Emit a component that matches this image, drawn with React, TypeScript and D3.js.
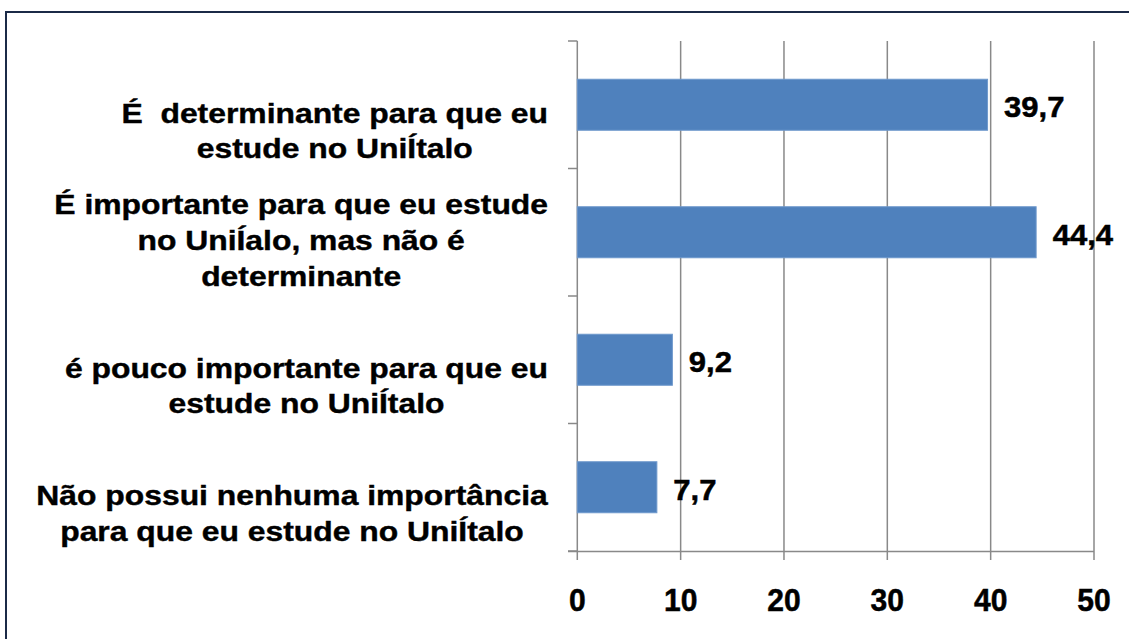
import React, { useLayoutEffect, useRef } from 'react';
import * as d3 from 'd3';

// ---- data ----
const categories = ['determinante', 'importante', 'pouco importante', 'nenhuma importância'];
const categoryLines: string[][] = [
  ['É  determinante para que eu', 'estude no UniÍtalo'],
  ['É importante para que eu estude', 'no UniÍalo, mas não é', 'determinante'],
  ['é pouco importante para que eu', 'estude no UniÍtalo'],
  ['Não possui nenhuma importância', 'para que eu estude no UniÍtalo'],
];
const values = [39.7, 44.4, 9.2, 7.7];
const valueLabels = ['39,7', '44,4', '9,2', '7,7'];
const xTicks = [0, 10, 20, 30, 40, 50];
const xTickLabels = ['0', '10', '20', '30', '40', '50'];

const W = 1129;
const H = 639;
const FONT = '"Liberation Sans", Arial, Helvetica, sans-serif';

export default function App() {
  const labelsRef = useRef<SVGGElement>(null);

  const x = d3.scaleLinear().domain([0, 50]).range([577.3, 1094]);
  const yBand = d3.scaleBand<string>().domain(categories).range([41, 551]).paddingInner(0).paddingOuter(0);
  const yBar = d3.scaleBand<string>().domain(categories).range([41, 551]).paddingInner(0.6).paddingOuter(0.3);
  const boundaries = [...categories.map((c) => yBand(c) as number), 551];
  const axisY = 551.5;
  const gridColor = '#898989';

  const catScaleX = 1.18;
  const lineGap = 36;

  useLayoutEffect(() => {
    if (!labelsRef.current) return;
    const g = d3.select(labelsRef.current);
    g.selectAll<SVGGElement, unknown>('g.cat').each(function () {
      const inner = d3.select(this).select<SVGGElement>('g.inner').node();
      if (!inner) return;
      const bb = inner.getBBox();
      const w = bb.width * catScaleX;
      const cx = 548 - w / 2;
      const ty = d3.select(this).attr('data-ty');
      d3.select(this).attr('transform', `translate(${cx},${ty})`);
    });
  }, []);

  return (
    <svg
      width={W}
      height={H}
      style={{ position: 'absolute', left: 0, top: 0, background: '#fff' }}
      fontFamily={FONT}
    >
      <rect x={0} y={0} width={W} height={H} fill="#ffffff" />
      <rect x={6} y={12} width={W + 100} height={H + 100} fill="#ffffff" stroke="#1b2a47" strokeWidth={2} />

      {/* gridlines */}
      {xTicks.map((t) => (
        <line key={`g${t}`} x1={x(t)} x2={x(t)} y1={41} y2={560} stroke={gridColor} strokeWidth={1.5} />
      ))}
      {/* x axis */}
      <line x1={568} x2={x(50)} y1={axisY} y2={axisY} stroke={gridColor} strokeWidth={1.5} />
      {/* y ticks */}
      {boundaries.map((b, i) => (
        <line key={`yt${i}`} x1={568} x2={x(0)} y1={b} y2={b} stroke={gridColor} strokeWidth={1.5} />
      ))}

      {/* bars */}
      {categories.map((c, i) => (
        <rect
          key={`b${i}`}
          x={x(0)}
          y={yBar(c)}
          width={x(values[i]) - x(0)}
          height={yBar.bandwidth()}
          fill="#4f81bd"
          stroke="#6e98cc"
          strokeWidth={1}
        />
      ))}

      {/* value labels */}
      {categories.map((c, i) => {
        const cy = (yBar(c) as number) + yBar.bandwidth() / 2;
        const lx = x(values[i]) + 16.5;
        return (
          <text
            key={`v${i}`}
            transform={`translate(${lx},${cy + 12.5}) scale(1.07,1)`}
            fontSize={29}
            fontWeight="bold"
            fill="#000"
            stroke="#000"
            strokeWidth={0.5}
          >
            {valueLabels[i]}
          </text>
        );
      })}

      {/* x tick labels */}
      {xTicks.map((t, i) => (
        <text
          key={`xl${t}`}
          transform={`translate(${x(t)},${610.5}) scale(0.94,1)`}
          textAnchor="middle"
          fontSize={32}
          fontWeight="bold"
          fill="#000"
          stroke="#000"
          strokeWidth={0.5}
        >
          {xTickLabels[i]}
        </text>
      ))}

      {/* category labels */}
      <g ref={labelsRef}>
        {categories.map((c, i) => {
          const lines = categoryLines[i];
          const bottom = (yBand(c) as number) + yBand.bandwidth();
          const lastBaseline = bottom - 10;
          const firstBaseline = lastBaseline - (lines.length - 1) * lineGap;
          return (
            <g key={`c${i}`} className="cat" data-ty={firstBaseline} transform={`translate(335,${firstBaseline})`}>
              <g className="inner" transform={`scale(${catScaleX},1)`}>
                {lines.map((ln, j) => (
                  <text
                    key={j}
                    x={0}
                    y={j * lineGap}
                    textAnchor="middle"
                    fontSize={27}
                    fontWeight="bold"
                    fill="#000"
                    stroke="#000"
                    strokeWidth={0.4}
                    style={{ whiteSpace: 'pre' }}
                  >
                    {ln}
                  </text>
                ))}
              </g>
            </g>
          );
        })}
      </g>
    </svg>
  );
}
